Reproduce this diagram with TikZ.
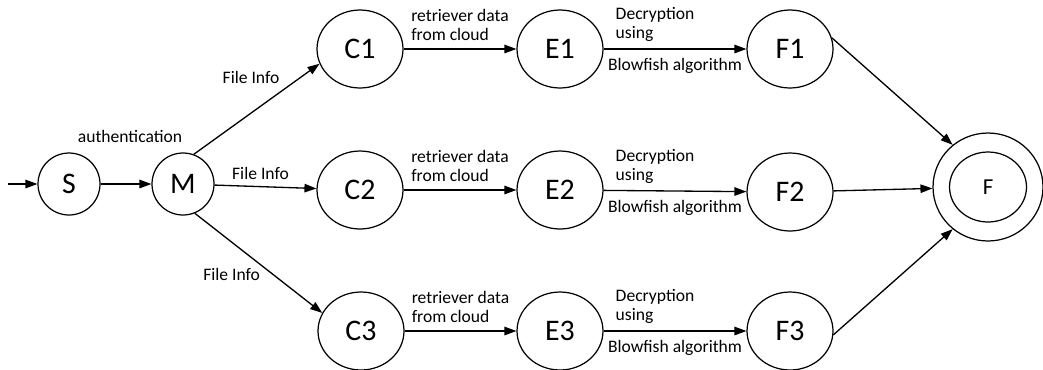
\documentclass[tikz,border=0pt]{standalone}
\usepackage{fontspec}
\setmainfont{Carlito}
\usetikzlibrary{shapes.geometric,arrows.meta,positioning}

\begin{document}
\begin{tikzpicture}[x=0.02cm,y=-0.02cm,
  stnode/.style={draw,ellipse,line width=0.7pt,minimum width=1.72cm,minimum height=1.56cm,inner sep=0pt,font=\fontsize{17}{20}\selectfont},
  smallst/.style={stnode,minimum width=1.24cm,minimum height=1.24cm},
  trans/.style={-{Triangle[length=2.4mm,width=1.7mm]},line width=0.75pt},
  lbl/.style={font=\fontsize{10}{11}\selectfont,align=left,inner sep=1pt}]
  \useasboundingbox (0,0) rectangle (1043,369);
  % start and login
  \coordinate (in) at (8,184);
  \node[smallst] (S) at (69,184) {S};
  \node[smallst] (M) at (183,184) {M};
  % three branches
  \node[stnode] (C1) at (360,49) {C1};
  \node[stnode] (E1) at (560,49) {E1};
  \node[stnode] (F1) at (790,49) {F1};
  \node[stnode] (C2) at (360,190) {C2};
  \node[stnode] (E2) at (560,190) {E2};
  \node[stnode] (F2) at (790,192) {F2};
  \node[stnode] (C3) at (361,331) {C3};
  \node[stnode] (E3) at (560,331) {E3};
  \node[stnode] (F3) at (790,331) {F3};
  % final state
  \node[stnode,minimum width=2.2cm,minimum height=2.16cm] (F) at (988,187) {};
  \node[stnode,minimum width=1.54cm,minimum height=1.4cm,font=\fontsize{13}{15}\selectfont] (Fin) at (F) {F};

  \draw[trans] (in) -- (S);
  \draw[trans] (S) -- (M) node[lbl,midway,above=0.78cm,xshift=0.08cm]{authentication};
  \draw[trans] (M.70) -- (C1.200) node[lbl,pos=0.7,anchor=south east,yshift=0.1cm]{File Info};
  \draw[trans] (M) -- (C2) node[lbl,midway,above=0.1cm,xshift=-0.1cm]{File Info};
  \draw[trans] (M.-68) -- (C3.155) node[lbl,pos=0.53,anchor=north east]{File Info};
  \foreach \i in {1,2,3} {
    \draw[trans] (C\i) -- (E\i) node[lbl,midway,above=0.12cm]{retriever data\\from cloud};
    \draw[trans] (E\i) -- (F\i)
      node[lbl,pos=0.36,above=0.1cm]{Decryption\\using}
      node[lbl,midway,below=0.14cm]{Blowfish algorithm};
  }
  \draw[trans] (F1.15) -- (F.130);
  \draw[trans] (F2) -- (F);
  \draw[trans] (F3.-5) -- (F.-130);
\end{tikzpicture}
\end{document}
